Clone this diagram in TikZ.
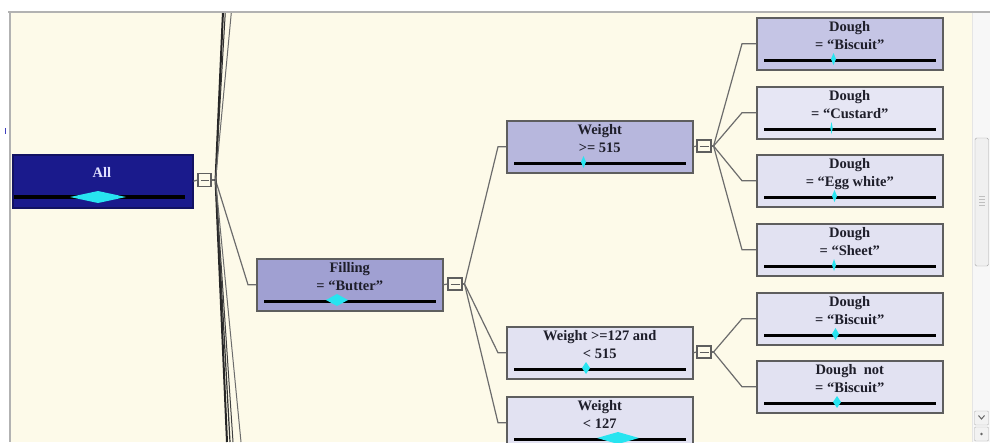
\documentclass[tikz,border=0pt]{standalone}
\usepackage{fontspec}
\setmainfont{Liberation Serif}
\definecolor{panel}{HTML}{FDFAE9}
\definecolor{edge}{HTML}{5E5E5E}
\definecolor{linec}{HTML}{6C6C6C}
\definecolor{mark}{RGB}{40,228,240}
\definecolor{navy}{HTML}{1A1A8C}
\definecolor{fA}{HTML}{A0A0D2}
\definecolor{fB}{HTML}{B7B7DD}
\definecolor{fC}{HTML}{C5C5E5}
\definecolor{fD}{HTML}{E2E2F2}
\definecolor{fE}{HTML}{E6E6F4}
\definecolor{txt}{HTML}{1E1E2A}
\tikzset{
  tbox/.style={draw=edge, line width=1.5pt, minimum width=186pt, minimum height=52pt, inner sep=0pt},
  ttext/.style={font=\bfseries\fontsize{14.5}{17.5}\selectfont, align=center, inner sep=0pt, text=txt},
  tbar/.style={line width=3.8pt, black},
  tmark/.style={fill=mark},
  cbox/.style={draw=edge, fill=panel, line width=1.1pt, minimum width=14pt, minimum height=12pt, inner sep=0pt,
    path picture={\draw[edge, line width=0.9pt] ([xshift=2.5pt]path picture bounding box.west) -- ([xshift=-2.5pt]path picture bounding box.east);}},
  conn/.style={linec, line width=1.2pt},
}
\newcommand\treebox[8]{%
  \node[tbox, fill=#4, anchor=north west] (#1) at (#2,#3) {};
  \node[ttext, anchor=north] (#1-t) at ([yshift=-4.5pt]#1.north) {#5};
  \draw[tbar] ([xshift=8pt,yshift=10pt]#1.south west) -- ([xshift=-8pt,yshift=10pt]#1.south east);
  \fill[tmark] (#6-#7,#3+42) -- (#6,#3+42-#8) -- (#6+#7,#3+42) -- (#6,#3+42+#8) -- cycle;
}
\begin{document}
\begin{tikzpicture}[x=1pt,y=-1pt]
\useasboundingbox (0,0) rectangle (990,442);
\clip (0,0) rectangle (990,442);
\fill[panel] (0,0) rectangle (990,442);

% root node
\node[tbox, fill=navy, draw=navy!70!black, minimum width=180pt, minimum height=53pt, anchor=north west] (all) at (12,154) {};
\node[font=\bfseries\fontsize{14.5}{17.5}\selectfont, text=white!88!blue, inner sep=0pt] (all-t) at (102,172.5) {All};
\draw[tbar] (14,197) -- (185,197);
\fill[tmark] (70,197) -- (98,191) -- (126,197) -- (98,203) -- cycle;

% level 1
\treebox{fil}{256}{258}{fA}{Filling\\= “Butter”}{337}{11}{6}
% level 2
\treebox{w1}{506}{120}{fB}{Weight\\>= 515}{583.5}{2.5}{6}
\treebox{w2}{506}{326}{fD}{Weight >=127 and\\< 515}{586}{4}{6}
\treebox{w3}{506}{396}{fD}{Weight\\< 127}{618}{21}{6}
% level 3
\treebox{d1}{756}{17}{fC}{Dough\\= “Biscuit”}{833.5}{2.5}{6}
\treebox{d2}{756}{86}{fE}{Dough\\= “Custard”}{831.5}{1.2}{6}
\treebox{d3}{756}{154}{fD}{Dough\\= “Egg white”}{834.5}{2.5}{6}
\treebox{d4}{756}{223}{fD}{Dough\\= “Sheet”}{834}{2}{6}
\treebox{d5}{756}{292}{fD}{Dough\\= “Biscuit”}{835.5}{3.5}{6}
\treebox{d6}{756}{360}{fD}{Dough~~not\\= “Biscuit”}{837}{4}{6}

% collapse boxes
\node[cbox, minimum width=13pt, minimum height=13pt] (c0) at (204.5,180) {};
\node[cbox] (c1) at (455,284) {};
\node[cbox] (c2) at (704,146) {};
\node[cbox] (c3) at (704,352) {};

\coordinate (f0) at ([xshift=4pt]c0.east);
\coordinate (f1) at ([xshift=2pt]c1.east);
\coordinate (f2) at ([xshift=2pt]c2.east);
\coordinate (f3) at ([xshift=2pt]c3.east);

% connectors
\draw[conn] (all.east) -- (c0.west);
\draw[conn] (c0.east) -- (f0);
\draw[conn] (f0) -- ([xshift=-8pt]fil.west) -- (fil.west);
\draw[conn] (fil.east) -- (c1.west);
\draw[conn] (c1.east) -- (f1);
\draw[conn] (f1) -- ([xshift=-8pt]w1.west) -- (w1.west);
\draw[conn] (f1) -- ([xshift=-8pt]w2.west) -- (w2.west);
\draw[conn] (f1) -- ([xshift=-8pt]w3.west) -- (w3.west);
\draw[conn] (w1.east) -- (c2.west);
\draw[conn] (c2.east) -- (f2);
\draw[conn] (f2) -- ([xshift=-14pt]d1.west) -- (d1.west);
\draw[conn] (f2) -- ([xshift=-14pt]d2.west) -- (d2.west);
\draw[conn] (f2) -- ([xshift=-14pt]d3.west) -- (d3.west);
\draw[conn] (f2) -- ([xshift=-14pt]d4.west) -- (d4.west);
\draw[conn] (w2.east) -- (c3.west);
\draw[conn] (c3.east) -- (f3);
\draw[conn] (f3) -- ([xshift=-14pt]d5.west) -- (d5.west);
\draw[conn] (f3) -- ([xshift=-14pt]d6.west) -- (d6.west);

% connectors to siblings off screen
\coordinate (up1) at (223.5,0);
\coordinate (up2) at (226,0);
\coordinate (up3) at (232.5,0);
\coordinate (dn1) at (227,442);
\coordinate (dn2) at (230,442);
\coordinate (dn3) at (233,442);
\coordinate (dn4) at (241,442);
\draw[black!85, line width=2pt] (f0) -- (up1);
\draw[black!80, line width=1pt] (f0) -- (up2);
\draw[conn, line width=1pt] (f0) -- (up3);
\draw[black!85, line width=2pt] (f0) -- (dn1);
\draw[black!80, line width=1.2pt] (f0) -- (dn2);
\draw[black!75, line width=1pt] (f0) -- (dn3);
\draw[conn, line width=1pt] (f0) -- (dn4);

% window frame
\fill[white] (0,0) rectangle (990,11.5);
\fill[white] (0,0) rectangle (8.5,442);
\draw[black!30, line width=1.5pt] (8,12) -- (990,12);
\draw[black!30, line width=2pt] (9.5,12) -- (9.5,442);
\fill[blue!50!gray] (4.5,128) rectangle (6,134);
% scrollbar
\fill[black!3] (972,12.8) rectangle (990,442);
\draw[black!10] (972,12.8) -- (972,442);
\draw[black!35, fill=black!6, rounded corners=1.5pt] (975,138) rectangle (988.5,266);
\foreach \yy in {196,199,202,205} \draw[black!25] (979,\yy) -- (984.5,\yy);
\draw[black!30, fill=black!5, rounded corners=1pt] (974.5,411) rectangle (988.5,425);
\draw[black!60, line width=1pt] (978.5,415.5) -- (981.5,419) -- (984.5,415.5);
\draw[black!30, fill=black!5, rounded corners=1pt] (974.5,427) rectangle (988.5,441);
\fill[black!60] (981.5,434) circle (1.3pt);
\end{tikzpicture}
\end{document}
